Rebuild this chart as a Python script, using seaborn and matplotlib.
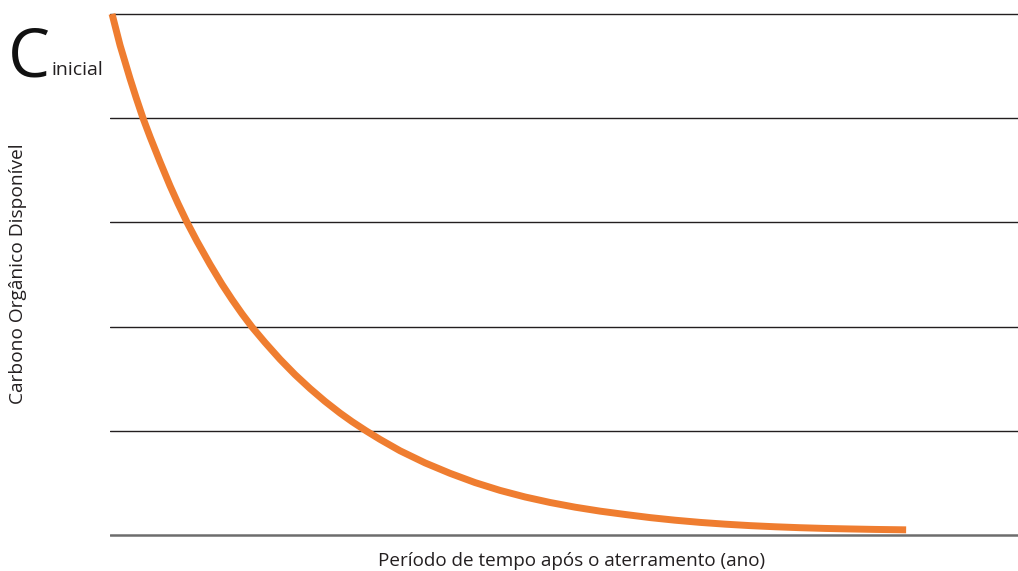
import numpy as np
import pandas as pd
import matplotlib
matplotlib.use("Agg")
import matplotlib.pyplot as plt
import seaborn as sns

# tempo (escala relativa 0-100) e carbono disponível (unidades de grade 0-5)
tempo = [0.22, 0.66, 1.10, 1.65, 2.20, 2.86, 3.63, 4.41, 5.51, 6.61,
         7.49, 8.48, 9.58, 11.01, 12.33, 13.44, 14.54, 15.64, 17.07, 18.72,
         20.37, 22.03, 23.68, 25.33, 26.65, 28.19, 29.74, 31.94, 34.69, 37.44,
         40.20, 42.95, 45.70, 48.46, 51.21, 53.96, 56.72, 59.47, 62.22, 64.98,
         67.73, 70.48, 73.24, 75.99, 78.74, 81.50, 84.25, 87.67]
carbono = [5.00, 4.85, 4.70, 4.54, 4.38, 4.20, 4.00, 3.82, 3.58, 3.35,
           3.18, 3.00, 2.818, 2.597, 2.406, 2.259, 2.122, 1.995, 1.847, 1.686,
           1.539, 1.405, 1.282, 1.170, 1.088, 1.00, 0.917, 0.808, 0.692, 0.592,
           0.503, 0.428, 0.365, 0.312, 0.267, 0.229, 0.197, 0.167, 0.142, 0.121,
           0.104, 0.090, 0.079, 0.070, 0.063, 0.058, 0.0535, 0.0495]
grade = [0, 1, 2, 3, 4, 5]

df = pd.DataFrame({"tempo": tempo, "carbono": carbono})

sns.set_style("white")
plt.rcParams["font.family"] = ["Open Sans", "DejaVu Sans"]

fig = plt.figure(figsize=(10.18, 5.71), dpi=100)
ax = fig.add_axes([0.1081, 0.0594, 0.892, 0.9198])

ax.set_xlim(0, 100)
ax.set_ylim(-0.02, 5.02)
ax.set_yticks(grade)
ax.set_xticks([])
ax.tick_params(left=False, labelleft=False)
ax.grid(axis="y", color="#231f20", linewidth=1.0)
ax.get_ygridlines()[0].set_color("#6d6d6d")
ax.get_ygridlines()[0].set_linewidth(1.8)
ax.set_axisbelow(True)
sns.despine(ax=ax, left=True, bottom=True)

sns.lineplot(data=df, x="tempo", y="carbono", ax=ax, color="#ef7d30",
             linewidth=5.0, solid_capstyle="butt", solid_joinstyle="round",
             clip_on=False)
ax.set_xlabel("")
ax.set_ylabel("")

fig.text(0.561, 0.018, "Período de tempo após o aterramento (ano)",
         ha="center", va="center", fontsize=13.6, color="#231f20")
fig.text(0.018, 0.52, "Carbono Orgânico Disponível", rotation=90,
         ha="center", va="center", fontsize=13.8, color="#231f20")
fig.text(0.008, 0.866, "C", ha="left", va="baseline", fontsize=48,
         color="#111111")
fig.text(0.051, 0.868, "inicial", ha="left", va="baseline", fontsize=14,
         color="#231f20")

fig.savefig("out.png", dpi=100)
